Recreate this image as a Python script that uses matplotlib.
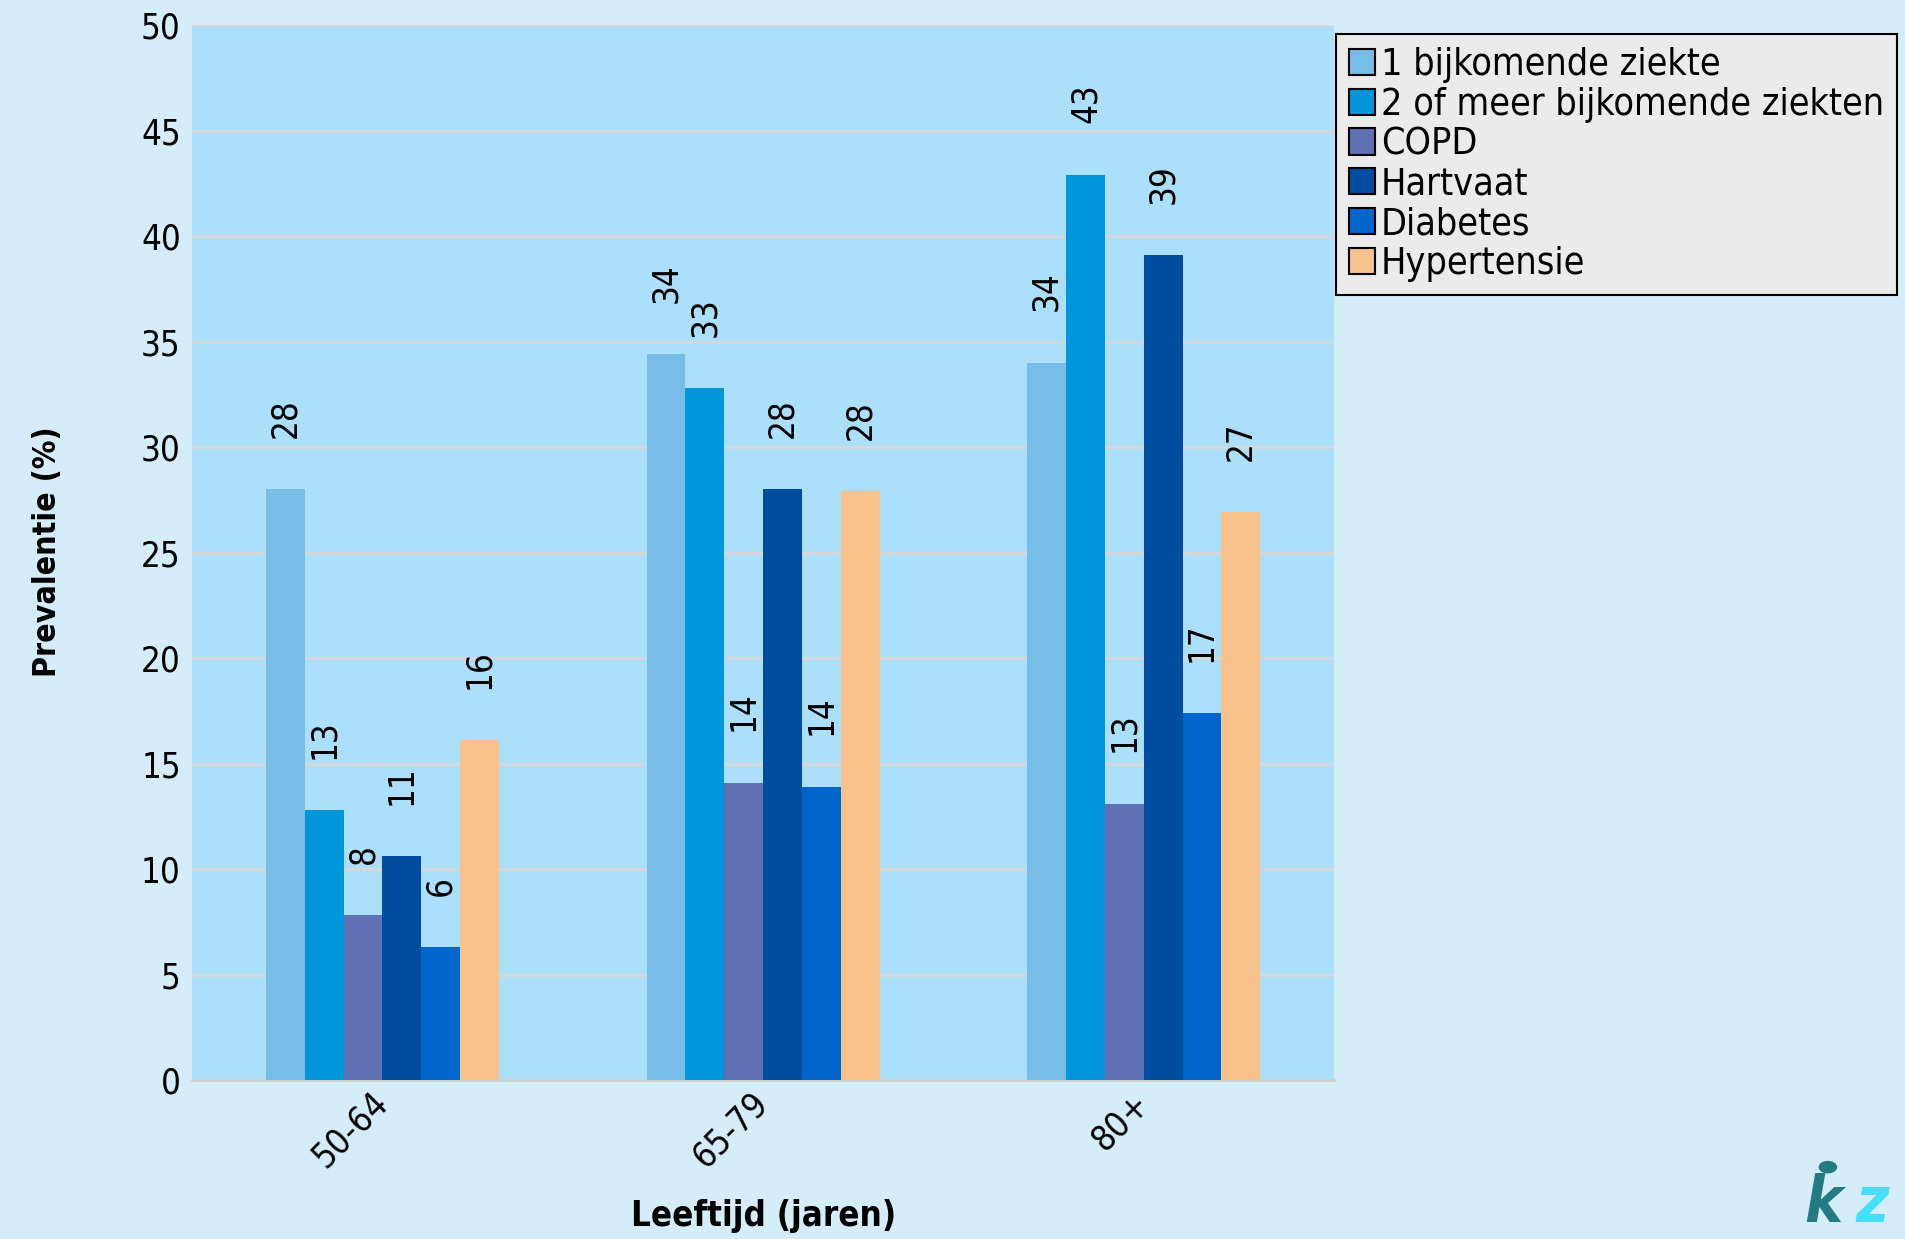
import numpy as np
import matplotlib.pyplot as plt
import matplotlib.transforms as mtransforms
from matplotlib.patches import Patch

# ============================================================
# Prevalentie van bijkomende ziekten naar leeftijd
# ============================================================

leeftijden = ["50-64", "65-79", "80+"]

reeksen = [
    "1 bijkomende ziekte",
    "2 of meer bijkomende ziekten",
    "COPD",
    "Hartvaat",
    "Diabetes",
    "Hypertensie",
]

een_ziekte = [28.0, 34.4, 34.0]
twee_of_meer = [12.8, 32.8, 42.9]
copd = [7.8, 14.1, 13.1]
hartvaat = [10.6, 28.0, 39.1]
diabetes = [6.3, 13.9, 17.4]
hypertensie = [16.1, 27.9, 26.9]

kleuren = ["#78bde8", "#0096d9", "#5f70b5", "#024ca0", "#0066cc", "#f7c28c"]

waarden = [een_ziekte, twee_of_meer, copd, hartvaat, diabetes, hypertensie]

plt.rcParams["font.family"] = "DejaVu Sans"
plt.rcParams["font.stretch"] = "condensed"

fig = plt.figure(figsize=(19.05, 12.39), dpi=100, facecolor="#d5ecf9")
ax = fig.add_axes([0.1008, 0.1283, 0.5995, 0.8515])
ax.set_facecolor("#ace0fa")

x = np.arange(len(leeftijden))
breedte = 0.102

for i, (naam, vals, kleur) in enumerate(zip(reeksen, waarden, kleuren)):
    pos = x + (i - 2.5) * breedte
    ax.bar(pos, vals, width=breedte, color=kleur, zorder=3)
    for px, v in zip(pos, vals):
        ax.annotate(f"{v:.0f}", (px, v), xytext=(0, 37), textcoords="offset points",
                    rotation=90, ha="center", va="bottom", fontsize=25)

ax.set_xlim(-0.5, 2.5)
ax.set_ylim(0, 50)
ax.set_yticks(np.arange(0, 51, 5))
ax.yaxis.grid(True, color="#d8d8d8", linewidth=2, zorder=0)
ax.set_axisbelow(True)
for s in ["left", "right", "top"]:
    ax.spines[s].set_visible(False)
ax.spines["bottom"].set_color("#d0d0d0")
ax.spines["bottom"].set_linewidth(2)

ax.set_xticks(x)
ax.set_xticklabels(leeftijden, rotation=45, ha="right", va="top",
                   rotation_mode="anchor", fontsize=25)
ax.tick_params(axis="both", length=0, labelsize=25)
ax.tick_params(axis="x", pad=4)
ax.tick_params(axis="y", pad=8)

# labels iets naar links schuiven zodat het einde onder de groep valt
verschuiving = mtransforms.ScaledTranslation(-12 / 100, 0, fig.dpi_scale_trans)
for lbl in ax.get_xticklabels():
    lbl.set_transform(lbl.get_transform() + verschuiving)

fig.text(0.025, 0.555, "Prevalentie (%)", fontsize=23, fontweight="bold",
         rotation=90, ha="center", va="center")
fig.text(0.401, 0.0185, "Leeftijd (jaren)", fontsize=25, fontweight="bold",
         ha="center", va="center")

handles = [Patch(facecolor=k, edgecolor="black", linewidth=1.5) for k in kleuren]
leg = fig.legend(handles, reeksen, loc="upper left", bbox_to_anchor=(0.7013, 0.9726),
                 borderaxespad=0, fontsize=27, frameon=True, fancybox=False,
                 facecolor="#ebebeb", edgecolor="black", framealpha=1,
                 handlelength=0.7, handleheight=0.7, handletextpad=0.15,
                 labelspacing=0.1, borderpad=0.35)
leg.get_frame().set_linewidth(1.5)

# logo rechtsonder
fig.text(0.947, 0.003, "k", fontsize=46, fontweight="bold", style="italic",
         color="#237a80", ha="left", va="bottom")
fig.text(0.974, 0.003, "z", fontsize=46, fontweight="bold", style="italic",
         color="#44e0f8", ha="left", va="bottom")
fig.patches.append(plt.Circle((0.9595, 0.058), 0.0045, transform=fig.transFigure,
                              color="#237a80"))

fig.savefig("out.png", dpi=100, facecolor=fig.get_facecolor())
